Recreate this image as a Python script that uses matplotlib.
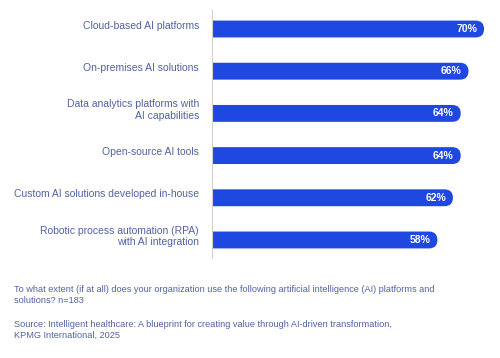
import matplotlib.pyplot as plt
from matplotlib.patches import FancyBboxPatch

categories = [
    "Cloud-based AI platforms",
    "On-premises AI solutions",
    "Data analytics platforms with\nAI capabilities",
    "Open-source AI tools",
    "Custom AI solutions developed in-house",
    "Robotic process automation (RPA)\nwith AI integration",
]
values = [70, 66, 64, 64, 62, 58]

note = ("To what extent (if at all) does your organization use the following artificial intelligence (AI) platforms and\n"
        "solutions? n=183")
source = ("Source: Intelligent healthcare: A blueprint for creating value through AI-driven transformation,\n"
          "KPMG International, 2025")

bar_color = "#1e48e0"
text_color = "#5262a2"

plt.rcParams['font.family'] = ['Liberation Sans', 'DejaVu Sans']

fig = plt.figure(figsize=(5, 3.58), dpi=100)
ax = fig.add_axes([0.424, 0.279, 0.56, 0.693])
ax.set_xlim(0, 72.05)
ax.set_ylim(5.43, -0.45)

# pixel scale of the axes, used to keep the rounded ends circular
fig.canvas.draw()
bbox = ax.get_window_extent()
px_x = bbox.width / 72.05
px_y = bbox.height / 5.88
h = 0.4
r = h * px_y / px_x / 2

for i, v in enumerate(values):
    patch = FancyBboxPatch((-10, i - h / 2), v + 10, h,
                           boxstyle=f"round,pad=0,rounding_size={r}",
                           mutation_aspect=px_x / px_y,
                           facecolor=bar_color, edgecolor="none")
    ax.add_patch(patch)
    ax.text(v - 1.8, i, f"{v}%", ha="right", va="center", color="white",
            fontsize=7.5, fontweight="bold")
    ax.text(-3.35, i - 0.08, categories[i], ha="right", va="center",
            color=text_color, fontsize=7.45, clip_on=False, linespacing=1.2)

for s in ["top", "right", "bottom"]:
    ax.spines[s].set_visible(False)
ax.spines["left"].set_color("#d0d0d0")
ax.spines["left"].set_linewidth(0.8)
ax.set_xticks([])
ax.set_yticks([])

fig.text(0.028, 1 - 295 / 358, note, ha="left", va="center", color=text_color,
         fontsize=6.55, linespacing=1.3)
fig.text(0.028, 1 - 330 / 358, source, ha="left", va="center", color=text_color,
         fontsize=6.55, linespacing=1.3)

fig.savefig("out.png", dpi=100)
